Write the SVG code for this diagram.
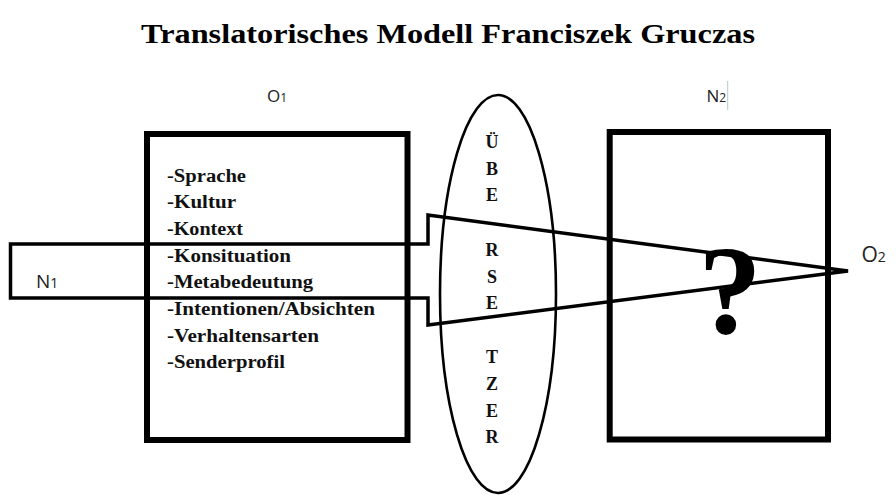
<svg xmlns="http://www.w3.org/2000/svg" width="896" height="495" viewBox="0 0 896 495">
<style>
.title{font-family:"Liberation Serif","Times New Roman",serif;font-weight:bold;font-size:28px;fill:#000}
.item{font-family:"Liberation Serif","Times New Roman",serif;font-weight:bold;font-size:18px;fill:#111}
.vert{font-family:"Liberation Serif","Times New Roman",serif;font-weight:bold;font-size:18px;fill:#111;text-anchor:middle}
.lbl{font-family:"Open Sans","Liberation Sans",sans-serif;fill:#222}
.box{fill:none;stroke:#000;stroke-width:6}
.wedge{fill:none;stroke:#000;stroke-width:3.5;stroke-linejoin:miter}
.oval{fill:none;stroke:#000;stroke-width:2.6}
</style>
<rect x="0" y="0" width="896" height="495" fill="#fff"/>
<g id="title">
<text class="title" x="141" y="43" textLength="614" lengthAdjust="spacingAndGlyphs">Translatorisches Modell Franciszek Gruczas</text>
</g>
<g id="label-o1">
<text class="lbl" x="267" y="101.7" font-size="17">O<tspan font-size="12">1</tspan></text>
</g>
<g id="label-n2">
<text class="lbl" x="706.5" y="101.7" font-size="17">N<tspan font-size="12">2</tspan></text>
<line x1="727.7" y1="81" x2="727.7" y2="110" stroke="#b7c9cc" stroke-width="1"/>
</g>
<g id="source-box">
<rect class="box" x="147" y="134" width="260.5" height="306"/>
<text class="item" x="167" y="181.5" textLength="79" lengthAdjust="spacingAndGlyphs">-Sprache</text>
<text class="item" x="167" y="208.2" textLength="69" lengthAdjust="spacingAndGlyphs">-Kultur</text>
<text class="item" x="167" y="234.9" textLength="76" lengthAdjust="spacingAndGlyphs">-Kontext</text>
<text class="item" x="167" y="261.6" textLength="124" lengthAdjust="spacingAndGlyphs">-Konsituation</text>
<text class="item" x="167" y="288.3" textLength="146" lengthAdjust="spacingAndGlyphs">-Metabedeutung</text>
<text class="item" x="167" y="315" textLength="208" lengthAdjust="spacingAndGlyphs">-Intentionen/Absichten</text>
<text class="item" x="167" y="341.7" textLength="152" lengthAdjust="spacingAndGlyphs">-Verhaltensarten</text>
<text class="item" x="167" y="368.4" textLength="118" lengthAdjust="spacingAndGlyphs">-Senderprofil</text>
</g>
<g id="translator">
<ellipse class="oval" cx="498" cy="294" rx="58" ry="199"/>
<text class="vert" x="492" y="148">Ü</text>
<text class="vert" x="492" y="174.7">B</text>
<text class="vert" x="492" y="201.4">E</text>
<text class="vert" x="492" y="256">R</text>
<text class="vert" x="492" y="282.5">S</text>
<text class="vert" x="492" y="309">E</text>
<text class="vert" x="492" y="363">T</text>
<text class="vert" x="492" y="390">Z</text>
<text class="vert" x="492" y="416.7">E</text>
<text class="vert" x="492" y="443.3">R</text>
</g>
<g id="target-box">
<rect class="box" x="609.7" y="132" width="218.3" height="307.5"/>
<text x="730" y="333" text-anchor="middle" font-family="Liberation Serif, Times New Roman, serif" font-weight="bold" font-size="127" fill="#000">?</text>
</g>
<g id="connectors">
<polygon class="wedge" points="10.5,244 428,244 428,215 848,271 428,325 428,298 10.5,298"/>
</g>
<g id="label-n1">
<text class="lbl" x="36" y="287.5" font-size="19">N<tspan font-size="14">1</tspan></text>
</g>
<g id="label-o2">
<text class="lbl" x="861.5" y="261.7" font-size="21">O<tspan font-size="14">2</tspan></text>
</g>
</svg>
